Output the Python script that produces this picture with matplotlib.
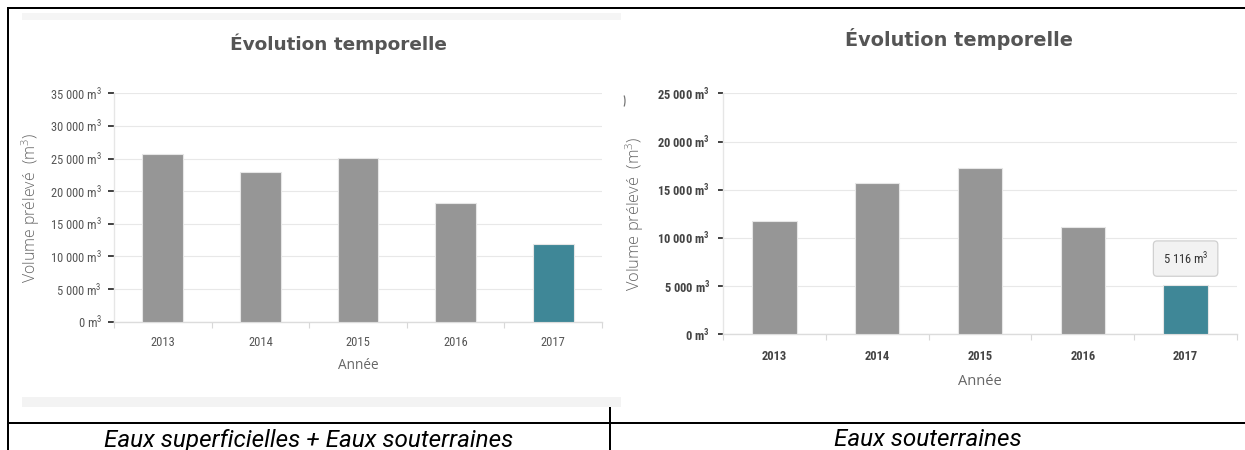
import matplotlib
matplotlib.use("Agg")
import matplotlib.pyplot as plt
from matplotlib.lines import Line2D
from matplotlib.patches import Rectangle, Arc

# ---------------- data ----------------
years = ["2013", "2014", "2015", "2016", "2017"]
total_volume = [25700, 22900, 25100, 18200, 11900]      # Eaux superficielles + Eaux souterraines
sout_volume = [11800, 15700, 17200, 11100, 5116]        # Eaux souterraines
left_ticks = [0, 5000, 10000, 15000, 20000, 25000, 30000, 35000]
right_ticks = [0, 5000, 10000, 15000, 20000, 25000]
title_text = "Évolution temporelle"
ylabel_text = r"Volume prélevé  (m$^\mathregular{3}$)"
xlabel_text = "Année"
caption_left = "Eaux superficielles + Eaux souterraines"
caption_right = "Eaux souterraines"
tooltip_value = 5116

W, H = 1245, 450
GRAY = "#969696"
TEAL = "#3f8797"
COND = ["Roboto Condensed", "Liberation Sans Narrow", "DejaVu Sans Condensed", "Roboto"]

fig = plt.figure(figsize=(W / 100, H / 100), dpi=100)
fig.patch.set_facecolor("white")


def fx(x):
    return x / W


def fy(y):
    return 1 - y / H


def fmt(v):
    s = f"{v:,}".replace(",", " ")
    return s + r" m$^\mathregular{3}$"


def pline(x0, y0, x1, y1, color="black", lw=2.0):
    fig.add_artist(Line2D([fx(x0), fx(x1)], [fy(y0), fy(y1)], transform=fig.transFigure,
                          color=color, lw=lw * 0.72, solid_capstyle="butt"))


def make_axes(left, right, top, bottom, ymax, ticks, values, width_frac, bold, tick_color,
              tick_len, tick_pad, xlab_off, ylab_x, xtick_pad, xlab_size, ylab_size):
    ax = fig.add_axes([fx(left), fy(bottom), (right - left) / W, (bottom - top) / H])
    x = list(range(len(years)))
    colors = [GRAY] * (len(years) - 1) + [TEAL]
    ax.bar(x, values, width=width_frac, color=colors, edgecolor="#e6e6e6", linewidth=0.8, zorder=3)
    ax.set_xlim(-0.5, len(years) - 0.5)
    ax.set_ylim(0, ymax)
    ax.set_yticks(ticks)
    ax.set_yticklabels([fmt(t) for t in ticks])
    ax.set_xticks(x)
    ax.set_xticklabels(years)
    ax.set_xticks([i - 0.5 for i in range(len(years) + 1)], minor=True)
    ax.grid(axis="y", color="#e8e8e8", lw=0.8, zorder=0)
    ax.set_axisbelow(True)
    for s in ["top", "right"]:
        ax.spines[s].set_visible(False)
    ax.spines["left"].set_color("#e6e6e6")
    ax.spines["left"].set_linewidth(1.0)
    ax.spines["bottom"].set_color("#dcdcdc")
    ax.spines["bottom"].set_linewidth(1.0)
    weight = "bold" if bold else "normal"
    ax.tick_params(axis="y", which="major", length=tick_len * 0.72, width=1.3, color="#333333",
                   pad=tick_pad * 0.72, labelsize=9, labelcolor=tick_color)
    ax.tick_params(axis="x", which="major", length=0, pad=xtick_pad * 0.72, labelsize=9,
                   labelcolor=tick_color)
    ax.tick_params(axis="x", which="minor", length=5.5 * 0.72, width=0.8, color="#d8d8d8")
    for lab in ax.get_yticklabels() + ax.get_xticklabels():
        lab.set_fontfamily(COND)
        lab.set_fontweight(weight)
    ax.set_xlabel(xlabel_text, fontsize=xlab_size, color="#666666",
                  family=["Open Sans", "DejaVu Sans"])
    ax.xaxis.set_label_coords(0.5, -xlab_off / (bottom - top))
    ax.xaxis.label.set_va("center")
    ax.set_ylabel(ylabel_text, fontsize=ylab_size, color="#666666",
                  family=["Open Sans", "DejaVu Sans"], fontweight="light")
    ax.yaxis.set_label_coords((ylab_x - left) / (right - left), 0.5)
    ax.yaxis.label.set_va("center")
    return ax


# left chart
axL = make_axes(114, 602, 93.3, 321.7, 35000, left_ticks, total_volume, 0.42, False, "#555555",
                6, 6, 44, 30.5, 14, 9.8, 11.4)
# right chart
axR = make_axes(723, 1237, 93.3, 334.3, 25000, right_ticks, sout_volume, 0.43, True, "#444444",
                5, 8, 47.5, 635, 16, 10.5, 11.8)

# tooltip on the last bar of right chart
axR.annotate(fmt(tooltip_value), xy=(len(years) - 1, sout_volume[-1]), xytext=(0, 19),
             textcoords="offset points", ha="center", va="center", fontsize=9,
             family=COND, color="#333333", zorder=5,
             bbox=dict(boxstyle="round,pad=0.75,rounding_size=0.3", fc="#f2f2f2", ec="#d0d0d0", lw=0.9))

# titles
fig.text(fx(338), fy(50), title_text, ha="center", va="baseline", fontsize=13.3,
         fontweight="bold", color="#555555", family="DejaVu Sans")
fig.text(fx(959), fy(45.5), title_text, ha="center", va="baseline", fontsize=13.9,
         fontweight="bold", color="#555555", family="DejaVu Sans")

# shadow bands of the left chart container
fig.add_artist(Rectangle((fx(22), fy(20)), (621 - 22) / W, 7 / H, transform=fig.transFigure,
                         fc="#f5f5f5", ec="none", zorder=0))
fig.add_artist(Rectangle((fx(22), fy(407)), (621 - 22) / W, 10 / H, transform=fig.transFigure,
                         fc="#f3f3f3", ec="none", zorder=0))

# stray arc artifact
fig.add_artist(Arc((fx(617), fy(101)), 16 / W, 24 / H, theta1=-65, theta2=65,
                   transform=fig.transFigure, color="#777777", lw=0.9))

# table borders
pline(8, 7.5, W, 7.5)
pline(8, 6.5, 8, H)
pline(7, 422.5, W, 422.5)
pline(610, 407, 610, H)

# captions
fig.text(fx(309), fy(446.5), caption_left, ha="center", va="baseline", fontsize=17.5,
         style="italic", family="Roboto", color="black")
fig.text(fx(928), fy(446.5), caption_right, ha="center", va="baseline", fontsize=17.5,
         style="italic", family="Roboto", color="black")

fig.savefig("out.png", dpi=100)
